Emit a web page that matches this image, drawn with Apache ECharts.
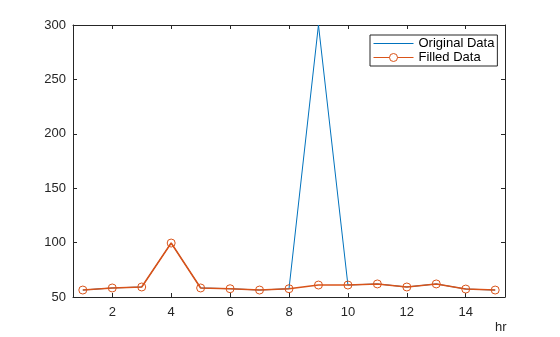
<!DOCTYPE html>
<html><head><meta charset="utf-8">
<script src="https://cdn.jsdelivr.net/npm/echarts@6/dist/echarts.min.js"></script>
<style>html,body{margin:0;padding:0;background:#fff}#c{width:560px;height:337px}</style>
</head><body><div id="c"></div>
<script>
const hours = [1,2,3,4,5,6,7,8,9,10,11,12,13,14,15];
const originalData = [56.4,58.3,59.2,99.6,58.3,57.6,56.4,57.6,300,61,62,59.2,62,57.3,56.4];
const filledData   = [56.4,58.3,59.2,99.6,58.3,57.6,56.4,57.6,61,61,62,59.2,62,57.3,56.4];
const xTicks = [2,4,6,8,10,12,14];
const yTicks = [50,100,150,200,250,300];
const seriesNames = ['Original Data','Filled Data'];
const xName = 'hr';

const ax = '#262626';
const blue = '#0072BD', orange = '#D95319';
const font = 'Liberation Sans, Arial, Helvetica, sans-serif';
const chart = echarts.init(document.getElementById('c'), null, {renderer:'canvas'});
const pairs = arr => hours.map((h,i)=>[h,arr[i]]);
const xCommon = {type:'value', min:0.667, max:15.333,
  axisLine:{show:true, onZero:false, lineStyle:{color:ax,width:1}},
  axisTick:{show:true, inside:true, length:4, customValues:xTicks, lineStyle:{color:ax}},
  splitLine:{show:false}};
const yCommon = {type:'value', min:50, max:300, interval:50,
  axisLine:{show:true, onZero:false, lineStyle:{color:ax,width:1}},
  axisTick:{show:true, inside:true, length:4, lineStyle:{color:ax}},
  splitLine:{show:false}};
chart.setOption({
  animation:false,
  grid:{left:73, right:55, top:25, bottom:40},
  xAxis:[
    Object.assign({}, xCommon, {position:'bottom',
      axisLabel:{show:true, customValues:xTicks, color:ax, fontSize:13, fontFamily:font, margin:9}}),
    Object.assign({}, xCommon, {position:'top', axisLabel:{show:false}})
  ],
  yAxis:[
    Object.assign({}, yCommon, {position:'left',
      axisLabel:{show:true, color:ax, fontSize:13, fontFamily:font, margin:7}}),
    Object.assign({}, yCommon, {position:'right', axisLabel:{show:false}})
  ],
  legend:{orient:'vertical', left:370, top:35, padding:[2,3,2,3], itemGap:1,
    itemWidth:40, itemHeight:10, borderColor:ax, borderWidth:1, borderRadius:0,
    backgroundColor:'#fff', textStyle:{color:'#000', fontSize:13, fontFamily:font},
    lineStyle:{width:1},
    data:[
      {name:seriesNames[0], itemStyle:{opacity:0}},
      {name:seriesNames[1], itemStyle:{color:'#fff', borderColor:orange, borderWidth:1}}
    ]},
  graphic:[{type:'text', left:495, top:321, style:{text:xName, fill:ax, font:'13px '+font}}],
  series:[
    {name:seriesNames[0], type:'line', data:pairs(originalData), showSymbol:false, symbol:'none',
     lineStyle:{color:blue, width:1}, itemStyle:{color:blue}, z:1},
    {name:seriesNames[1], type:'line', data:pairs(filledData), symbol:'circle', symbolSize:8,
     lineStyle:{color:orange, width:1.6},
     itemStyle:{color:'rgba(255,255,255,0)', borderColor:orange, borderWidth:1}, z:3}
  ]
});
</script></body></html>
